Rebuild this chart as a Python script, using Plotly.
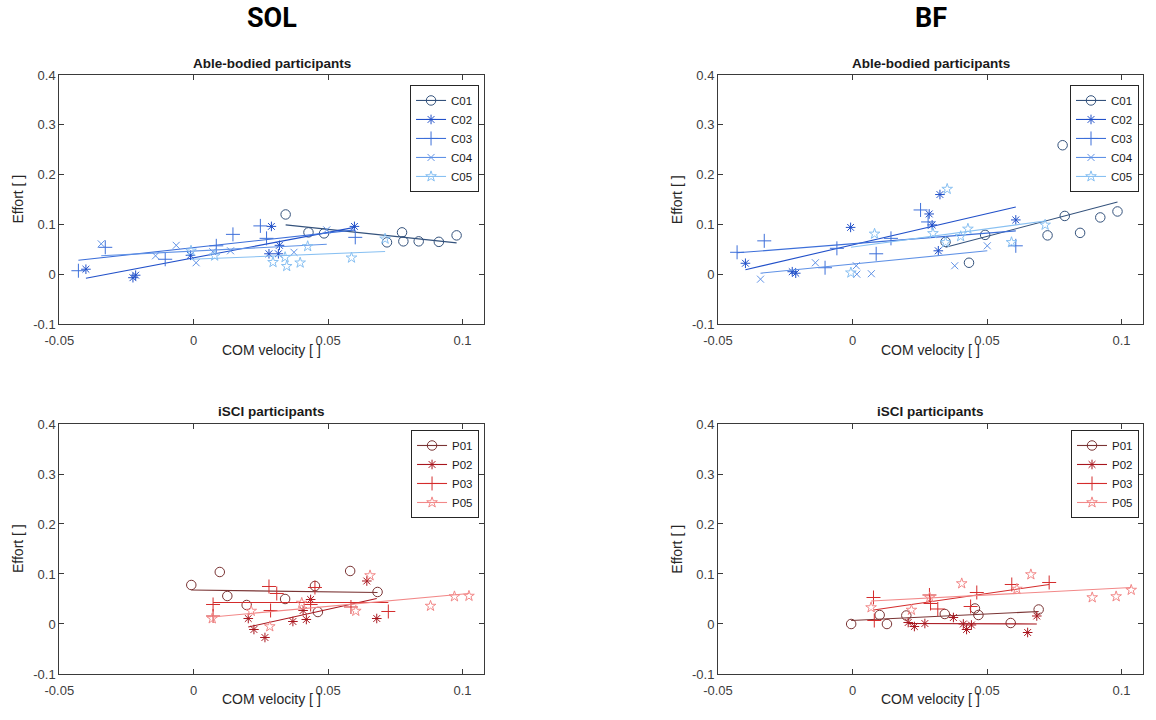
import plotly.graph_objects as go

# ---------------------------------------------------------------------------
# Data: COM velocity [ ] vs. effort [ ] per participant
# ---------------------------------------------------------------------------
able_labels = ["C01", "C02", "C03", "C04", "C05"]
isci_labels = ["P01", "P02", "P03", "P05"]

# SOL, able-bodied
sol_able_x = {
    "C01": [0.0342, 0.0427, 0.0485, 0.0719, 0.0775, 0.0780, 0.0837, 0.0912, 0.0978],
    "C02": [-0.0401, -0.0226, -0.0216, -0.0012, 0.0289, 0.0319, 0.0280, 0.0315, 0.0598],
    "C03": [-0.0429, -0.0329, -0.0106, 0.0084, 0.0146, 0.0248, 0.0271, 0.0601],
    "C04": [-0.0344, -0.0142, -0.0065, 0.0009, 0.0071, 0.0137, 0.0373, 0.0495],
    "C05": [-0.0010, 0.0078, 0.0295, 0.0340, 0.0346, 0.0396, 0.0424, 0.0587, 0.0712],
}
sol_able_y = {
    "C01": [0.120, 0.084, 0.082, 0.064, 0.084, 0.066, 0.066, 0.065, 0.078],
    "C02": [0.010, -0.007, -0.002, 0.038, 0.096, 0.058, 0.041, 0.041, 0.096],
    "C03": [0.007, 0.054, 0.030, 0.057, 0.080, 0.097, 0.072, 0.074],
    "C04": [0.061, 0.037, 0.058, 0.023, 0.045, 0.047, 0.044, 0.089],
    "C05": [0.047, 0.037, 0.024, 0.034, 0.016, 0.023, 0.056, 0.033, 0.071],
}
# linear fit evaluated at the smallest and largest velocity of each participant
sol_able_fit = {
    "C01": [0.099, 0.063],
    "C02": [-0.008, 0.094],
    "C03": [0.028, 0.089],
    "C04": [0.037, 0.060],
    "C05": [0.030, 0.0455],
}

# BF, able-bodied
bf_able_x = {
    "C01": [0.0781, 0.0346, 0.0433, 0.0493, 0.0725, 0.0789, 0.0846, 0.0921, 0.0985],
    "C02": [-0.0398, -0.0224, -0.0211, -0.0007, 0.0285, 0.0325, 0.0296, 0.0319, 0.0607],
    "C03": [-0.0429, -0.0328, -0.0102, -0.0058, 0.0088, 0.0143, 0.0253, 0.0281, 0.0607],
    "C04": [-0.0342, -0.0138, 0.0014, 0.0016, 0.0070, 0.0380, 0.0501],
    "C05": [-0.0006, 0.0082, 0.0299, 0.0352, 0.0346, 0.0402, 0.0429, 0.0591, 0.0716],
}
bf_able_y = {
    "C01": [0.259, 0.065, 0.023, 0.079, 0.078, 0.117, 0.083, 0.114, 0.126],
    "C02": [0.022, 0.005, 0.002, 0.094, 0.121, 0.160, 0.099, 0.047, 0.109],
    "C03": [0.044, 0.067, 0.013, 0.052, 0.041, 0.072, 0.129, 0.105, 0.057],
    "C04": [-0.010, 0.023, 0.017, 0.000, 0.001, 0.017, 0.057],
    "C05": [0.003, 0.081, 0.082, 0.171, 0.064, 0.076, 0.091, 0.064, 0.099],
}
bf_able_fit = {
    "C01": [0.054, 0.145],
    "C02": [0.009, 0.135],
    "C03": [0.043, 0.087],
    "C04": [0.002, 0.047],
    "C05": [0.054, 0.107],
}

# SOL, iSCI
sol_isci_x = {
    "P01": [-0.0009, 0.0097, 0.0125, 0.0197, 0.0340, 0.0451, 0.0462, 0.0582, 0.0684],
    "P02": [0.0203, 0.0224, 0.0265, 0.0369, 0.0407, 0.0419, 0.0435, 0.0644, 0.0681],
    "P03": [0.0072, 0.0072, 0.0280, 0.0309, 0.0286, 0.0435, 0.0451, 0.0585, 0.0724],
    "P05": [0.0069, 0.0214, 0.0283, 0.0402, 0.0603, 0.0656, 0.0881, 0.0970, 0.1024],
}
sol_isci_y = {
    "P01": [0.078, 0.104, 0.056, 0.038, 0.050, 0.076, 0.024, 0.106, 0.064],
    "P02": [0.011, -0.011, -0.027, 0.005, 0.027, 0.009, 0.049, 0.086, 0.011],
    "P03": [0.039, 0.016, 0.075, 0.061, 0.027, 0.039, 0.073, 0.034, 0.025],
    "P05": [0.011, 0.026, -0.005, 0.042, 0.026, 0.097, 0.036, 0.055, 0.056],
}
sol_isci_fit = {
    "P01": [0.068, 0.063],
    "P02": [-0.006, 0.051],
    "P03": [0.043, 0.043],
    "P05": [0.014, 0.061],
}

# BF, iSCI
bf_isci_x = {
    "P01": [-0.0005, 0.0101, 0.0128, 0.0200, 0.0343, 0.0455, 0.0468, 0.0588, 0.0692],
    "P02": [0.0207, 0.0230, 0.0269, 0.0375, 0.0412, 0.0424, 0.0442, 0.0651, 0.0685],
    "P03": [0.0078, 0.0081, 0.0286, 0.0290, 0.0317, 0.0439, 0.0462, 0.0592, 0.0731],
    "P05": [0.0069, 0.0219, 0.0287, 0.0406, 0.0611, 0.0663, 0.0891, 0.0980, 0.1036],
}
bf_isci_y = {
    "P01": [0.000, 0.018, 0.000, 0.017, 0.020, 0.031, 0.018, 0.002, 0.029],
    "P02": [0.003, -0.005, 0.001, 0.013, 0.000, -0.011, -0.002, -0.017, 0.016],
    "P03": [0.053, 0.007, 0.058, 0.041, 0.030, 0.035, 0.063, 0.079, 0.083],
    "P05": [0.033, 0.028, 0.053, 0.081, 0.070, 0.099, 0.053, 0.055, 0.068],
}
bf_isci_fit = {
    "P01": [0.007, 0.025],
    "P02": [0.001, 0.000],
    "P03": [0.028, 0.079],
    "P05": [0.046, 0.073],
}

x_ticks = [-0.05, 0, 0.05, 0.1]
x_tick_text = ["-0.05", "0", "0.05", "0.1"]
y_ticks = [-0.1, 0, 0.1, 0.2, 0.3, 0.4]
y_tick_text = ["-0.1", "0", "0.1", "0.2", "0.3", "0.4"]

# ---------------------------------------------------------------------------
# Styling
# ---------------------------------------------------------------------------
colors = {
    "C01": "#34527c", "C02": "#2150c9", "C03": "#3d6fd9", "C04": "#6092e6", "C05": "#88c0f2",
    "P01": "#7a3434", "P02": "#a8161e", "P03": "#d42c2c", "P05": "#f28888",
}
symbols = {
    "C01": ("circle-open", 9.5), "C02": ("asterisk-open", 8), "C03": ("cross-thin-open", 10),
    "C04": ("x-thin-open", 7), "C05": ("star-open", 8),
    "P01": ("circle-open", 9.5), "P02": ("asterisk-open", 8), "P03": ("cross-thin-open", 10),
    "P05": ("star-open", 8),
}

FONT = "Liberation Sans, Arial, sans-serif"
AXIS_COLOR = "#3a3a3a"
TICK_COLOR = "#404040"
LABEL_FONT = dict(family=FONT, size=14, color="#262626")

fig = go.Figure()

panels = [
    # (labels, xs, ys, fits, axis suffix, legend id)
    (able_labels, sol_able_x, sol_able_y, sol_able_fit, "", "legend"),
    (able_labels, bf_able_x, bf_able_y, bf_able_fit, "2", "legend2"),
    (isci_labels, sol_isci_x, sol_isci_y, sol_isci_fit, "3", "legend3"),
    (isci_labels, bf_isci_x, bf_isci_y, bf_isci_fit, "4", "legend4"),
]

for labels, xs, ys, fits, sfx, leg in panels:
    xa, ya = "x" + sfx, "y" + sfx
    for lab in labels:
        col = colors[lab]
        sym, size = symbols[lab]
        marker = dict(symbol=sym, size=size, color=col, line=dict(color=col, width=1))
        # measured points
        fig.add_trace(go.Scatter(
            x=xs[lab], y=ys[lab], mode="markers", marker=marker,
            xaxis=xa, yaxis=ya, showlegend=False, hoverinfo="x+y+name", name=lab,
        ))
        # least-squares trend over the participant's velocity range
        fig.add_trace(go.Scatter(
            x=[min(xs[lab]), max(xs[lab])], y=fits[lab], mode="lines",
            line=dict(color=col, width=1.1), xaxis=xa, yaxis=ya,
            showlegend=False, hoverinfo="skip", name=lab,
        ))
        # legend entry (line with marker)
        fig.add_trace(go.Scatter(
            x=[None], y=[None], mode="lines+markers", name=lab, marker=marker,
            line=dict(color=col, width=1.1), xaxis=xa, yaxis=ya, legend=leg,
        ))

# Axes geometry (paper fractions)
x_dom_left = [0.0513, 0.4187]
x_dom_right = [0.6211, 0.9888]
y_dom_top = [0.55, 0.8958]
y_dom_bot = [0.0639, 0.4111]

def xaxis(domain, anchor):
    return dict(
        domain=domain, anchor=anchor, range=[-0.05, 0.108], automargin=False,
        tickvals=x_ticks, ticktext=x_tick_text, ticks="inside", ticklen=5,
        ticklabelstandoff=4,
        tickcolor=AXIS_COLOR, showline=True, linecolor=AXIS_COLOR, linewidth=1,
        mirror="ticks", showgrid=False, zeroline=False,
        tickfont=dict(family=FONT, size=13, color=TICK_COLOR),
    )

def yaxis(domain, anchor):
    return dict(
        domain=domain, anchor=anchor, range=[-0.1, 0.4], automargin=False,
        tickvals=y_ticks, ticktext=y_tick_text, ticks="inside", ticklen=5,
        tickcolor=AXIS_COLOR, showline=True, linecolor=AXIS_COLOR, linewidth=1,
        mirror="ticks", showgrid=False, zeroline=False,
        tickfont=dict(family=FONT, size=13, color=TICK_COLOR),
    )

def legend(x, y):
    return dict(
        x=x, y=y, xanchor="right", yanchor="top", xref="paper", yref="paper",
        bgcolor="white", bordercolor="#262626", borderwidth=1,
        font=dict(family=FONT, size=11.5, color="#1a1a1a"),
        tracegroupgap=0, itemwidth=30,
    )

fig.update_layout(
    width=1156, height=720,
    margin=dict(l=0, r=0, t=0, b=0, autoexpand=False),
    paper_bgcolor="white", plot_bgcolor="white",
    xaxis=xaxis(x_dom_left, "y"), yaxis=yaxis(y_dom_top, "x"),
    xaxis2=xaxis(x_dom_right, "y2"), yaxis2=yaxis(y_dom_top, "x2"),
    xaxis3=xaxis(x_dom_left, "y3"), yaxis3=yaxis(y_dom_bot, "x3"),
    xaxis4=xaxis(x_dom_right, "y4"), yaxis4=yaxis(y_dom_bot, "x4"),
    legend=legend(0.4144, 0.882),
    legend2=legend(0.9853, 0.882),
    legend3=legend(0.4144, 0.4028),
    legend4=legend(0.9853, 0.4028),
    showlegend=True,
)

# Column headings, panel titles and axis labels
col_centers = [sum(x_dom_left) / 2, sum(x_dom_right) / 2]
row_centers = [sum(y_dom_top) / 2, sum(y_dom_bot) / 2]
ylabel_x = [18 / 1156, (18 + 658.7) / 1156]
xlabel_y = [1 - 350 / 720, 1 - 699 / 720]

for cx, txt in zip(col_centers, ["SOL", "BF"]):
    fig.add_annotation(x=cx, y=0.975, xref="paper", yref="paper", text=f"<b>{txt}</b>",
                       showarrow=False, xanchor="center", yanchor="middle",
                       font=dict(family="Roboto, sans-serif", size=27, color="black"))
for cx, lx in zip(col_centers, ylabel_x):
    fig.add_annotation(x=cx, y=0.9125, xref="paper", yref="paper",
                       text="<b>Able-bodied participants</b>", showarrow=False,
                       xanchor="center", yanchor="middle",
                       font=dict(family=FONT, size=13.5, color="#1a1a1a"))
    fig.add_annotation(x=cx, y=0.4278, xref="paper", yref="paper",
                       text="<b>iSCI participants</b>", showarrow=False,
                       xanchor="center", yanchor="middle",
                       font=dict(family=FONT, size=13.5, color="#1a1a1a"))
    for ly, ry in zip(xlabel_y, row_centers):
        fig.add_annotation(x=cx, y=ly, xref="paper", yref="paper",
                           text="COM velocity [ ]", showarrow=False,
                           xanchor="center", yanchor="middle", font=LABEL_FONT)
        fig.add_annotation(x=lx, y=ry, xref="paper", yref="paper",
                           text="Effort [ ]", showarrow=False, textangle=-90,
                           xanchor="center", yanchor="middle", font=LABEL_FONT)

fig.write_html("out.html")
